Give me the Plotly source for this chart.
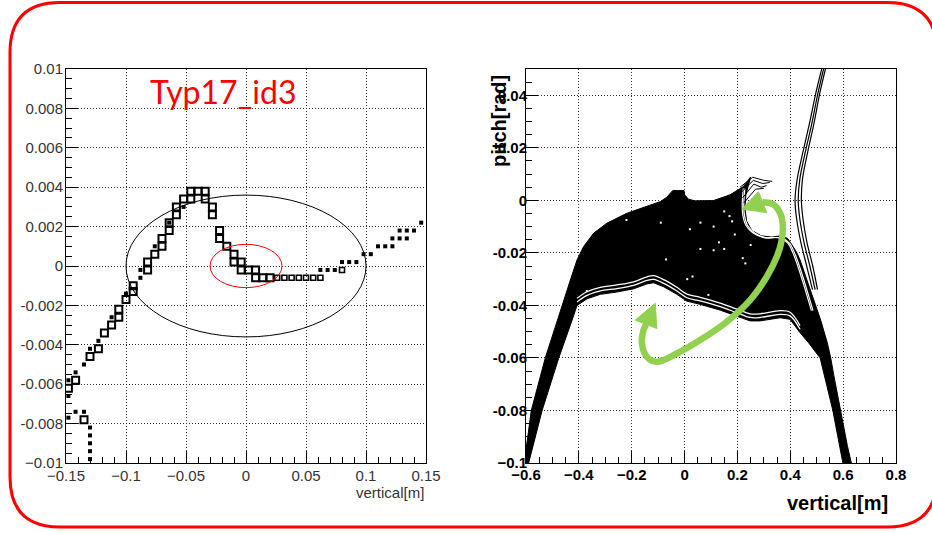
import numpy as np
import plotly.graph_objects as go

# ---------------- left panel: vertical [m] vs pitch ----------------
open_x = [-0.148, -0.142, -0.135, -0.130, -0.123, -0.118, -0.112, -0.106, -0.106, -0.100,
          -0.094, -0.094, -0.082, -0.082, -0.076, -0.070, -0.070, -0.064, -0.064, -0.058,
          -0.058, -0.052, -0.046, -0.046, -0.040, -0.034, -0.034, -0.028, -0.028, -0.022,
          -0.022, -0.016, -0.010, -0.010, -0.004, -0.004, 0.002, 0.008, 0.008, 0.014, 0.020]
open_y = [-0.0062, -0.0058, -0.0078, -0.0046, -0.0042, -0.0034, -0.0030, -0.0026, -0.0022, -0.0017,
          -0.0013, -0.0010, -0.0002, 0.0002, 0.0006, 0.0010, 0.0014, 0.0018, 0.0022, 0.0026,
          0.0030, 0.0034, 0.0034, 0.0038, 0.0038, 0.0038, 0.0034, 0.0030, 0.0026, 0.0018,
          0.0014, 0.0010, 0.0006, 0.0002, 0.0002, -0.0002, -0.0002, -0.0002, -0.0006, -0.0006, -0.0006]

small_x = [0.026, 0.032, 0.038, 0.044, 0.050, 0.056, 0.062, 0.080]
small_y = [-0.0006, -0.0006, -0.0006, -0.0006, -0.0006, -0.0006, -0.0006, -0.0002]

filled_x = [-0.148, -0.148, -0.142, -0.135, -0.130, -0.123, -0.112, -0.100, -0.088, -0.088,
            -0.076, -0.064, -0.052,
            -0.148, -0.142, -0.135, -0.130, -0.130, -0.130, -0.130, -0.130,
            0.062, 0.068, 0.074, 0.080, 0.086, 0.092, 0.098, 0.104, 0.110, 0.116, 0.122,
            0.122, 0.128, 0.134, 0.128, 0.134, 0.140, 0.146]
filled_y = [-0.0066, -0.0058, -0.0054, -0.0050, -0.0042, -0.0038, -0.0026, -0.0014, -0.0006, -0.0002,
            0.0010, 0.0022, 0.0030,
            -0.0077, -0.0074, -0.0074, -0.0082, -0.0086, -0.0090, -0.0094, -0.0098,
            -0.0002, -0.0002, -0.0002, 0.0002, 0.0002, 0.0002, 0.0006, 0.0006, 0.0010, 0.0010, 0.0010,
            0.0014, 0.0014, 0.0014, 0.0018, 0.0018, 0.0018, 0.0022]

# acceptance ellipses: (centre x, centre y, half-width, half-height, colour)
ellipses = [(0.0, 0.0, 0.100, 0.0036, "black"),
            (0.0, 0.0, 0.030, 0.0011, "red")]

left_xticks = [-0.15, -0.1, -0.05, 0, 0.05, 0.1, 0.15]
left_xtext = ["\u22120.15", "\u22120.1", "\u22120.05", "0", "0.05", "0.1", "0.15"]
left_yticks = [-0.01, -0.008, -0.006, -0.004, -0.002, 0, 0.002, 0.004, 0.006, 0.008, 0.01]
left_ytext = ["\u22120.01", "-0.008", "-0.006", "-0.004", "-0.002", "0", "0.002", "0.004",
              "0.006", "0.008", "0.01"]

# ---------------- right panel: phase-space band ----------------
band_x = [-0.600, -0.580, -0.527, -0.470, -0.432, -0.407, -0.382, -0.344, -0.294, -0.218,
          -0.142, -0.092, -0.067, -0.052, -0.045, -0.002, 0.000, 0.015, 0.040, 0.109,
          0.172, 0.222, 0.250, 0.232, 0.228, 0.235, 0.255, 0.290, 0.330, 0.365,
          0.390, 0.410, 0.425, 0.437, 0.462, 0.490, 0.515, 0.540, 0.553, 0.565,
          0.590, 0.616, 0.631, 0.599, 0.561, 0.513, 0.469, 0.437, 0.399, 0.362,
          0.286, 0.248, 0.198, 0.135, 0.059, 0.009, -0.029, -0.079, -0.117, -0.142,
          -0.193, -0.256, -0.319, -0.369, -0.407, -0.420, -0.476, -0.539, -0.590, -0.600]
band_y = [-0.0950, -0.0800, -0.0600, -0.0418, -0.0303, -0.0227, -0.0176, -0.0125, -0.0087, -0.0049,
          -0.0024, -0.0005, 0.0012, 0.0030, 0.0037, 0.0037, 0.0021, 0.0004, -0.0002, -0.0001,
          0.0021, 0.0052, 0.0089, 0.0020, -0.0030, -0.0080, -0.0115, -0.0135, -0.0140, -0.0135,
          -0.0145, -0.0175, -0.0200, -0.0227, -0.0303, -0.0380, -0.0456, -0.0542, -0.0600, -0.0668,
          -0.0800, -0.0934, -0.1000, -0.1000, -0.0800, -0.0600, -0.0542, -0.0504, -0.0453, -0.0447,
          -0.0459, -0.0459, -0.0441, -0.0418, -0.0396, -0.0384, -0.0358, -0.0329, -0.0314, -0.0318,
          -0.0337, -0.0349, -0.0358, -0.0375, -0.0400, -0.0440, -0.0600, -0.0800, -0.1000, -0.1000]

# lower edge of the dense band, traced by the outermost orbits
edge_x = [-0.407, -0.369, -0.319, -0.256, -0.193, -0.142, -0.117, -0.079, -0.029, 0.009,
          0.059, 0.135, 0.198, 0.248, 0.286, 0.362, 0.399, 0.437]
edge_y = [-0.0400, -0.0375, -0.0358, -0.0349, -0.0337, -0.0318, -0.0314, -0.0329, -0.0358, -0.0384,
          -0.0396, -0.0418, -0.0441, -0.0459, -0.0459, -0.0447, -0.0453, -0.0504]

# orbit separating the upper-right island
loop_x = [0.222, 0.218, 0.221, 0.232, 0.258, 0.300, 0.360, 0.390, 0.410, 0.430, 0.455, 0.480]
loop_y = [0.0045, -0.0020, -0.0060, -0.0095, -0.0123, -0.0142, -0.0143, -0.0162, -0.0200, -0.0255, -0.0335, -0.0420]

# escaping trajectories on the right
escape_x = [[0.519, 0.497, 0.472, 0.447, 0.426, 0.418, 0.424, 0.440, 0.462, 0.484],
            [0.526, 0.505, 0.481, 0.456, 0.436, 0.430, 0.436, 0.452, 0.474, 0.494],
            [0.533, 0.512, 0.489, 0.465, 0.446, 0.442, 0.448, 0.463, 0.485, 0.503]]
escape_y = [[0.050, 0.041, 0.029, 0.018, 0.008, 0.000, -0.007, -0.016, -0.025, -0.034],
            [0.050, 0.041, 0.029, 0.018, 0.008, 0.000, -0.007, -0.016, -0.025, -0.034],
            [0.050, 0.041, 0.029, 0.018, 0.008, 0.000, -0.007, -0.016, -0.025, -0.034]]

# fringe of orbits at the top of the island
fringe_x = [[0.210, 0.258, 0.300, 0.332], [0.214, 0.260, 0.296, 0.322],
            [0.220, 0.262, 0.290, 0.310], [0.224, 0.268, 0.300]]
fringe_y = [[0.0050, 0.0088, 0.0076, 0.0072], [0.0030, 0.0076, 0.0064, 0.0068],
            [0.0010, 0.0062, 0.0050, 0.0056], [-0.0010, 0.0042, 0.0046]]

# sparse gaps inside the band
speck_x = [-0.22, -0.09, 0.02, 0.06, 0.11, 0.15, 0.17, 0.18, 0.13, 0.15, 0.06, 0.11, 0.22,
           0.23, -0.07, 0.01, 0.03, 0.09, -0.37, 0.19, 0.25]
speck_y = [-0.0075, -0.0085, -0.0110, -0.0085, -0.0100, -0.0042, -0.0060, -0.0080, -0.0160,
           -0.0185, -0.0185, -0.0190, -0.0220, -0.0240, -0.0225, -0.0300, -0.0290, -0.0360,
           -0.0345, -0.0130, -0.0170]

# green circulation arrow (curve + two heads)
arrow_x = [0.295, 0.335, 0.362, 0.372, 0.366, 0.349, 0.311, 0.248, 0.160, 0.059, -0.029,
           -0.105, -0.1425, -0.1614, -0.1554, -0.1457]
arrow_y = [-0.0007, -0.0015, -0.0050, -0.0100, -0.0160, -0.0215, -0.0291, -0.0380, -0.0462,
           -0.0532, -0.0583, -0.0615, -0.0596, -0.0545, -0.0494, -0.0472]
head_up_x = [0.2166, 0.2794, 0.3111]
head_up_y = [-0.0033, 0.0033, -0.0047]
head_lo_x = [-0.1111, -0.1867, -0.1047]
head_lo_y = [-0.0392, -0.0456, -0.0488]

right_xticks = [-0.6, -0.4, -0.2, 0, 0.2, 0.4, 0.6, 0.8]
right_xtext = ["\u22120.6", "\u22120.4", "\u22120.2", "0", "0.2", "0.4", "0.6", "0.8"]
right_yticks = [-0.1, -0.08, -0.06, -0.04, -0.02, 0, 0.02, 0.04]
right_ytext = ["\u22120.1", "-0.08", "-0.06", "-0.04", "-0.02", "0", "0.02", "0.04"]

W, H = 932, 533
GREEN = "#92D050"


def px(x):
    return x / W


def py(y):
    return 1 - y / H


fig = go.Figure()

# left panel traces
fig.add_trace(go.Scatter(x=filled_x, y=filled_y, mode="markers", xaxis="x", yaxis="y",
                         marker=dict(symbol="square", size=4, color="black", line=dict(width=0))))
fig.add_trace(go.Scatter(x=small_x, y=small_y, mode="markers", xaxis="x", yaxis="y",
                         marker=dict(symbol="square-open", size=5, color="black", line=dict(width=1.6))))
fig.add_trace(go.Scatter(x=open_x, y=open_y, mode="markers", xaxis="x", yaxis="y",
                         marker=dict(symbol="square-open", size=7, color="black", line=dict(width=2))))

# right panel traces
fig.add_trace(go.Scatter(x=band_x, y=band_y, mode="lines", fill="toself", fillcolor="black",
                         line=dict(color="black", width=1), xaxis="x2", yaxis="y2"))
for off in (0.0013, 0.0027):
    fig.add_trace(go.Scatter(x=edge_x, y=[v + off for v in edge_y], mode="lines",
                             line=dict(color="white", width=1.3, shape="spline"),
                             xaxis="x2", yaxis="y2"))
for dx in (0.0, 0.006):
    fig.add_trace(go.Scatter(x=[v + dx for v in loop_x], y=loop_y, mode="lines",
                             line=dict(color="white", width=1.2, shape="spline"),
                             xaxis="x2", yaxis="y2"))
fig.add_trace(go.Scatter(x=speck_x, y=speck_y, mode="markers", xaxis="x2", yaxis="y2",
                         marker=dict(symbol="square", size=2, color="white", line=dict(width=0))))
for ex, ey in zip(escape_x, escape_y):
    fig.add_trace(go.Scatter(x=ex, y=ey, mode="lines", line=dict(color="black", width=1.2, shape="spline"),
                             xaxis="x2", yaxis="y2"))
for fx, fy in zip(fringe_x, fringe_y):
    fig.add_trace(go.Scatter(x=fx, y=fy, mode="lines", line=dict(color="black", width=1),
                             xaxis="x2", yaxis="y2"))
fig.add_trace(go.Scatter(x=arrow_x, y=arrow_y, mode="lines", xaxis="x2", yaxis="y2",
                         line=dict(color=GREEN, width=6.5, shape="spline", smoothing=1.0)))
for hx, hy in ((head_up_x, head_up_y), (head_lo_x, head_lo_y)):
    fig.add_trace(go.Scatter(x=hx + [hx[0]], y=hy + [hy[0]], mode="lines", fill="toself",
                             fillcolor=GREEN, line=dict(color=GREEN, width=1), xaxis="x2", yaxis="y2"))

shapes = []
for cx, cy, rx, ry, col in ellipses:
    shapes.append(dict(type="circle", xref="x", yref="y", x0=cx - rx, x1=cx + rx,
                       y0=cy - ry, y1=cy + ry, line=dict(color=col, width=1), layer="above"))

# red rounded frame around both panels
fx0, fx1, fy0, fy1, r = 10, 937, 2.5, 527, 50
path = (f"M {px(fx0 + r)},{py(fy0)} L {px(fx1 - r)},{py(fy0)} "
        f"Q {px(fx1)},{py(fy0)} {px(fx1)},{py(fy0 + r)} L {px(fx1)},{py(fy1 - r)} "
        f"Q {px(fx1)},{py(fy1)} {px(fx1 - r)},{py(fy1)} L {px(fx0 + r)},{py(fy1)} "
        f"Q {px(fx0)},{py(fy1)} {px(fx0)},{py(fy1 - r)} L {px(fx0)},{py(fy0 + r)} "
        f"Q {px(fx0)},{py(fy0)} {px(fx0 + r)},{py(fy0)} Z")
shapes.append(dict(type="path", xref="paper", yref="paper", path=path,
                   line=dict(color="#FF0000", width=3), layer="above"))


def axis_style(domain, rng, vals, text, minor_vals, font, anchor, standoff):
    return dict(domain=domain, range=rng, anchor=anchor, automargin=False,
                tickmode="array", tickvals=vals,
                ticktext=text, ticks="inside", ticklen=12, tickwidth=1, tickcolor="black",
                showline=True, linecolor="black", linewidth=1, mirror=True,
                showgrid=True, gridcolor="#333", gridwidth=1, griddash="1px,2px",
                zeroline=False, tickfont=font, ticklabelstandoff=standoff,
                minor=dict(tickmode="array", tickvals=minor_vals, ticks="inside", ticklen=6,
                           tickcolor="black", tickwidth=1, showgrid=False))


lfont = dict(family="Liberation Sans, Arial, sans-serif", size=15, color="#333")
rfont = dict(family="Liberation Sans, Arial, sans-serif", size=15, color="black", weight="bold")

xd1 = [px(66), px(426)]
xd2 = [px(526), px(896)]
yd = [py(463), py(69)]

fig.update_layout(
    width=W, height=H, margin=dict(l=0, r=0, t=0, b=0, autoexpand=False),
    paper_bgcolor="white", plot_bgcolor="white", showlegend=False,
    xaxis=axis_style(xd1, [-0.15, 0.15], left_xticks, left_xtext,
                     list(np.round(np.arange(-0.15, 0.1501, 0.01), 4)), lfont, "y", -1),
    yaxis=axis_style(yd, [-0.01, 0.01], left_yticks, left_ytext,
                     list(np.round(np.arange(-0.01, 0.01001, 0.0005), 5)), lfont, "x", -1),
    xaxis2=axis_style(xd2, [-0.6, 0.8], right_xticks, right_xtext,
                      list(np.round(np.arange(-0.6, 0.8001, 0.05), 3)), rfont, "y2", -2),
    yaxis2=axis_style(yd, [-0.1, 0.05], right_yticks, right_ytext,
                      list(np.round(np.arange(-0.1, 0.05001, 0.005), 4)), rfont, "x2", -5),
    shapes=shapes,
    annotations=[
        dict(text="Typ17_id3", xref="paper", yref="paper", x=px(223), y=py(91),
             xanchor="center", yanchor="middle", showarrow=False,
             font=dict(family="Lato, sans-serif", size=32, color="#FF0000")),
        dict(text="vertical[m]", xref="paper", yref="paper", x=px(426), y=py(492),
             xanchor="right", yanchor="middle", showarrow=False,
             font=dict(family="Liberation Sans, Arial, sans-serif", size=15, color="#333")),
        dict(text="vertical[m]", xref="paper", yref="paper", x=px(890), y=py(503),
             xanchor="right", yanchor="middle", showarrow=False,
             font=dict(family="Liberation Sans, Arial, sans-serif", size=20, color="black",
                       weight="bold")),
        dict(text="pitch[rad]", xref="paper", yref="paper", x=px(499), y=py(121),
             xanchor="center", yanchor="middle", textangle=-90, showarrow=False,
             font=dict(family="Liberation Sans, Arial, sans-serif", size=20, color="black",
                       weight="bold")),
    ],
)

fig.write_html("out.html")
